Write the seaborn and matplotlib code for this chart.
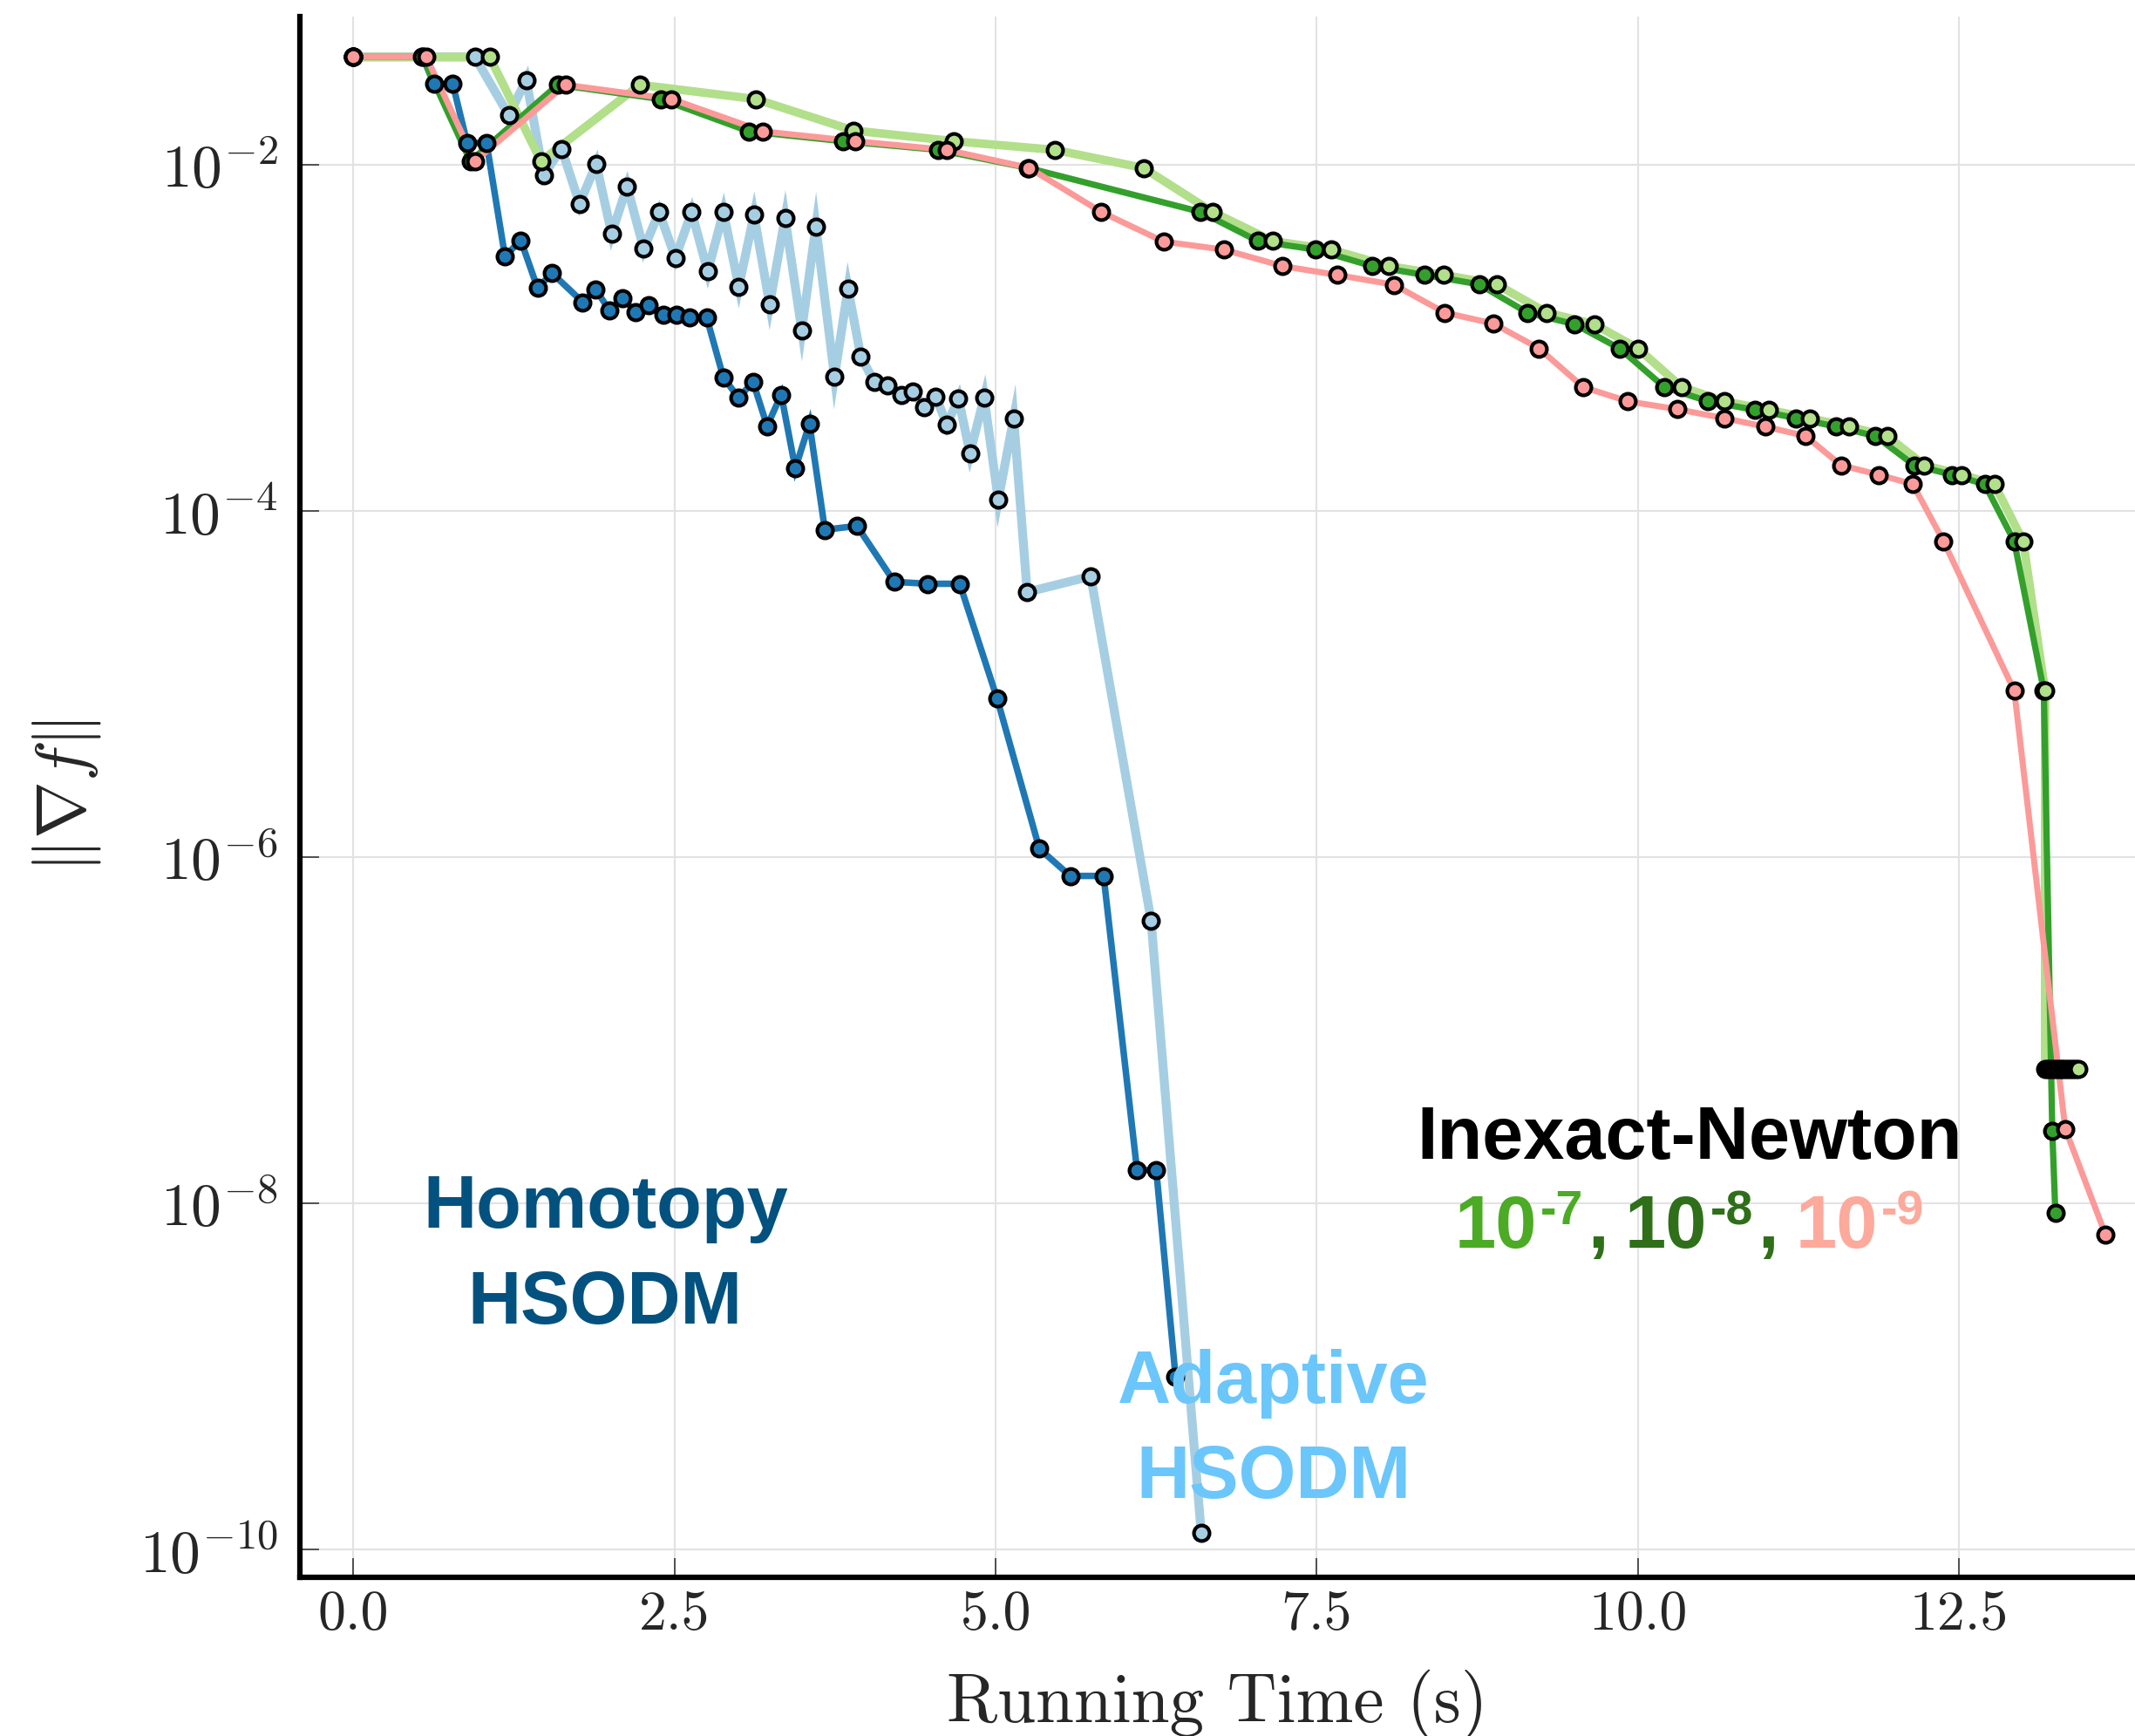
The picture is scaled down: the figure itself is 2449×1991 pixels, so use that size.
import numpy as np
import pandas as pd
import matplotlib
matplotlib.use("Agg")
import matplotlib.pyplot as plt
import matplotlib.transforms as mtransforms
from matplotlib.ticker import NullLocator
import seaborn as sns

sns.set_theme(style="whitegrid")
plt.rcParams['font.family'] = 'serif'
plt.rcParams['font.serif'] = ['cmr10', 'DejaVu Serif']
plt.rcParams['mathtext.fontset'] = 'cm'
plt.rcParams['axes.formatter.use_mathtext'] = True
PALETTE = sns.color_palette("Paired")

# ---------- data ----------
# Homotopy HSODM
hom_t = [0.0, 0.54, 0.627, 0.773, 0.885, 1.036, 1.179, 1.303, 1.433, 1.545,
         1.785, 1.885, 1.991, 2.097, 2.197, 2.30, 2.41, 2.515, 2.62, 2.75,
         2.88, 3.0, 3.11, 3.22, 3.33, 3.44, 3.55, 3.67, 3.92, 4.21,
         4.47, 4.72, 5.01, 5.34, 5.58, 5.84, 6.10, 6.25, 6.40]
hom_g = [0.042, 0.042, 0.0293, 0.0293, 0.0134, 0.0134, 0.00297, 0.00366, 0.00194, 0.00237,
         0.00161, 0.00191, 0.00145, 0.00169, 0.00141, 0.00155, 0.00136, 0.00136, 0.00131, 0.00131,
         0.00059, 0.00045, 0.00056, 0.00031, 0.00047, 0.000176, 0.00032, 7.8e-5, 8.2e-5, 3.9e-5,
         3.8e-5, 3.8e-5, 8.3e-6, 1.12e-6, 7.8e-7, 7.8e-7, 1.56e-8, 1.56e-8, 1.0e-9]

# Adaptive HSODM
ada_t = [0.0, 0.945, 1.21, 1.345, 1.48, 1.62, 1.76, 1.89, 2.01, 2.13,
         2.26, 2.38, 2.506, 2.633, 2.758, 2.88, 3.0, 3.118, 3.24, 3.36,
         3.49, 3.60, 3.745, 3.85, 3.95, 4.055, 4.16, 4.268, 4.353, 4.443,
         4.533, 4.62, 4.71, 4.80, 4.91, 5.02, 5.14, 5.245, 5.74, 6.21, 6.60]
ada_g = [0.042, 0.042, 0.0193, 0.031, 0.00873, 0.0124, 0.00596, 0.0101, 0.0040, 0.0075,
         0.00327, 0.00534, 0.0029, 0.00534, 0.00242, 0.00534, 0.00198, 0.00514, 0.00156, 0.00494,
         0.00111, 0.0044, 0.000597, 0.00193, 0.00078, 0.000557, 0.00053, 0.00047, 0.00049, 0.0004,
         0.00046, 0.000315, 0.000447, 0.000216, 0.000453, 0.000116, 0.000344, 3.4e-5, 4.2e-5, 4.3e-7,
         1.25e-10]

# Inexact-Newton, tol 1e-7
n7_t = [0.0, 1.06, 1.46, 2.23, 3.13, 3.89, 4.675, 5.46, 6.15, 6.687,
        7.154, 7.61, 8.06, 8.49, 8.90, 9.29, 9.66, 10.0, 10.34, 10.675,
        11.02, 11.336, 11.645, 11.94, 12.23, 12.52, 12.775, 13.0, 13.17,
        13.17, 13.19, 13.21, 13.23, 13.25, 13.27, 13.29, 13.31, 13.33,
        13.35, 13.37, 13.39, 13.41, 13.43]
n7_g = [0.042, 0.042, 0.0105, 0.029, 0.024, 0.0158, 0.0137, 0.0122, 0.0096, 0.00535,
        0.00363, 0.00324, 0.0026, 0.00231, 0.00204, 0.0014, 0.0012, 0.00087, 0.00052, 0.00043,
        0.000384, 0.000344, 0.000307, 0.000271, 0.000184, 0.000162, 0.000143, 6.67e-5, 9.16e-6,
        6e-8, 6e-8, 6e-8, 6e-8, 6e-8, 6e-8, 6e-8, 6e-8, 6e-8,
        6e-8, 6e-8, 6e-8, 6e-8, 6e-8]

# Inexact-Newton, tol 1e-8
n8_t = [0.0, 0.536, 0.91, 1.59, 2.39, 3.08, 3.81, 4.554, 5.252, 6.594,
        7.04, 7.49, 7.93, 8.34, 8.763, 9.14, 9.508, 9.857, 10.206, 10.547,
        10.91, 11.233, 11.545, 11.85, 12.15, 12.445, 12.70, 12.93, 13.16, 13.226, 13.25]
n8_g = [0.042, 0.042, 0.0105, 0.029, 0.024, 0.0156, 0.0137, 0.0122, 0.0096, 0.00535,
        0.00363, 0.00324, 0.0026, 0.00231, 0.00204, 0.0014, 0.0012, 0.00087, 0.00052, 0.00043,
        0.000384, 0.000344, 0.000307, 0.000271, 0.000184, 0.000162, 0.000143, 6.67e-5, 9.16e-6,
        2.63e-8, 8.8e-9]

# Inexact-Newton, tol 1e-9
n9_t = [0.0, 0.567, 0.945, 1.65, 2.476, 3.19, 3.906, 4.62, 5.26, 5.82,
        6.307, 6.774, 7.234, 7.66, 8.1, 8.496, 8.876, 9.23, 9.574, 9.923,
        10.31, 10.67, 10.995, 11.307, 11.58, 11.876, 12.14, 12.38, 12.93, 13.327, 13.64]
n9_g = [0.042, 0.042, 0.0105, 0.029, 0.024, 0.0156, 0.0137, 0.0122, 0.0096, 0.00535,
        0.0036, 0.00324, 0.0026, 0.00231, 0.00203, 0.0014, 0.00121, 0.00087, 0.00052, 0.00043,
        0.000387, 0.000344, 0.000307, 0.000271, 0.000184, 0.000162, 0.000143, 6.67e-5, 9.16e-6,
        2.7e-8, 6.6e-9]

x_ticks = [0.0, 2.5, 5.0, 7.5, 10.0, 12.5]
x_ticklabels = ['0.0', '2.5', '5.0', '7.5', '10.0', '12.5']
y_ticks = [1e-2, 1e-4, 1e-6, 1e-8, 1e-10]
y_ticklabels = [r'$10^{-2}$', r'$10^{-4}$', r'$10^{-6}$', r'$10^{-8}$', r'$10^{-10}$']

# ---------- plot ----------
fig = plt.figure(figsize=(24.49, 19.91), dpi=100)
ax = fig.add_axes([0.1403, 0.0914, 0.8597, 0.8992])
ax.set_yscale('log')

# name, t, g, color, line width, line zorder, marker zorder
series = [
    ('Adaptive HSODM', ada_t, ada_g, PALETTE[0], 7.4, 2.0, 3.0),
    ('Homotopy HSODM', hom_t, hom_g, PALETTE[1], 5.4, 2.1, 3.1),
    ('Inexact-Newton 1e-7', n7_t, n7_g, PALETTE[2], 7.0, 2.2, 3.3),
    ('Inexact-Newton 1e-8', n8_t, n8_g, PALETTE[3], 5.2, 2.3, 3.2),
    ('Inexact-Newton 1e-9', n9_t, n9_g, PALETTE[4], 5.0, 2.4, 3.4),
]

for name, t, g, color, lw, zl, zm in series:
    sns.lineplot(x=t, y=g, color=color, linewidth=lw, sort=False, estimator=None,
                 ax=ax, zorder=zl, solid_joinstyle='miter', legend=False)
    sns.scatterplot(x=t, y=g, color=color, s=165, edgecolor='black', linewidth=3.0,
                    ax=ax, zorder=zm, legend=False)

ax.set_xlim(-0.42, 13.87)
ax.set_ylim(10 ** -10.16, 10 ** -1.142)
ax.set_xticks(x_ticks)
ax.set_xticklabels(x_ticklabels)
ax.set_yticks(y_ticks)
ax.set_yticklabels(y_ticklabels)
ax.yaxis.set_minor_locator(NullLocator())

ax.grid(True, color='#e2e2e2', linewidth=1.5)
ax.set_axisbelow(True)
for s in ['top', 'right']:
    ax.spines[s].set_visible(False)
for s in ['left', 'bottom']:
    ax.spines[s].set_color('black')
    ax.spines[s].set_linewidth(4.5)
ax.tick_params(axis='both', direction='in', length=16, width=1.3, color='#444444',
               left=True, bottom=True)
ax.tick_params(axis='x', pad=11, labelsize=46)
ax.tick_params(axis='y', pad=18, labelsize=50)

ax.set_xlabel('Running Time (s)', fontsize=57)
ax.set_ylabel(r'$\|\nabla f\|$', fontsize=57)
ax.xaxis.set_label_coords(0.5, -0.0587)
ax.yaxis.set_label_coords(-0.107, 0.5)

# ---------- annotations ----------
lab_font = dict(family='Liberation Sans', fontweight='bold', fontsize=61,
                ha='center', va='baseline', linespacing=1.47, zorder=5)
# anchored at the baseline of the last line
ax.text(1.96, 10 ** -8.692, 'Homotopy\nHSODM', color='#03517f', **lab_font)
ax.text(7.16, 10 ** -9.704, 'Adaptive\nHSODM', color='#6bc6fb', **lab_font)
ax.text(10.40, 10 ** -7.74, 'Inexact-Newton', color='black', **lab_font)

# coloured tolerance line: text, colour, size, raise (px), gap before (px)
parts = [
    ('10', '#4cab25', 61, 0, 0),
    ('-7', '#4cab25', 40, 27, 4),
    (',', '#2f6f1a', 61, 0, 5),
    ('10', '#2f6f1a', 61, 0, 19),
    ('-8', '#2f6f1a', 40, 27, 4),
    (',', '#2f6f1a', 61, 0, 5),
    ('10', '#fda99c', 61, 0, 19),
    ('-9', '#fda99c', 40, 27, 4),
]
tol_x, tol_y = 10.40, 10 ** -8.257
texts = []
for s, c, fs, dy, gap in parts:
    texts.append(ax.text(tol_x, tol_y, s, color=c, fontsize=fs, fontweight='bold',
                         family='Liberation Sans', ha='left', va='baseline', zorder=5))
fig.canvas.draw()
r = fig.canvas.get_renderer()
widths = [t.get_window_extent(r).width for t in texts]
total = sum(widths) + sum(p[4] for p in parts)
xoff = -total / 2
for t, w, p in zip(texts, widths, parts):
    xoff += p[4]
    t.set_transform(mtransforms.offset_copy(ax.transData, fig=fig, x=xoff, y=p[3], units='dots'))
    xoff += w

fig.savefig('out.png', dpi=100)
